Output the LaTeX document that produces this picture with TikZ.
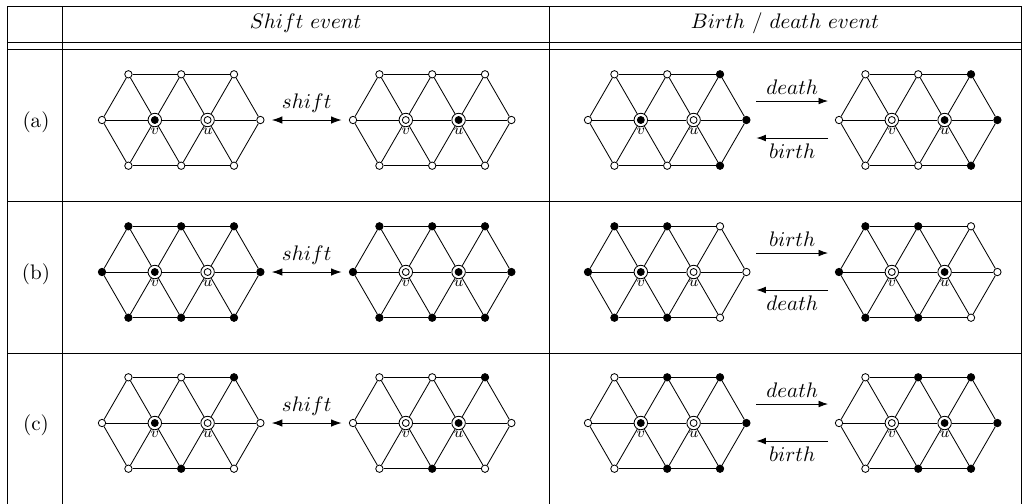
\documentclass[tikz,border=0pt]{standalone}
\usetikzlibrary{arrows.meta}

\tikzset{
	site/.style={shape=circle, draw, fill=#1, inner sep=0pt, minimum size=3.5pt},
	tag/.style={shape=circle, draw, fill=white, inner sep=0pt, minimum size=6.4pt,
		path picture={\filldraw[fill=#1] (path picture bounding box.center) circle (1.65pt);}},
	lbl/.style={font=\scriptsize, inner sep=0.5pt},
	twoway/.style={{Latex[length=5pt,width=3.6pt]}-{Latex[length=5pt,width=3.6pt]}, shorten <=3.5pt, shorten >=3.5pt},
	oneway/.style={-{Latex[length=4.5pt,width=3.2pt]}},
}

\newcommand{\siteu}{52.8}
\newcommand{\siteh}{45.7}
% #1 name, #2 centre, #3 top row, #4 left end, #5 right end, #6 bottom row, #7 fill of v, #8 fill of u
\newcommand{\trilattice}[8]{%
	\begin{scope}[shift={#2}]
		\node[site=#4] (#1m0) at (-1.5*\siteu, 0) {};
		\node[tag=#7, label={[lbl]below:$v$}] (#1m1) at (-0.5*\siteu, 0) {};
		\node[tag=#8, label={[lbl]below:$u$}] (#1m2) at (0.5*\siteu, 0) {};
		\node[site=#5] (#1m3) at (1.5*\siteu, 0) {};
		\foreach \c [count=\i from 0] in {#3} \node[site=\c] (#1t\i) at ({(\i-1)*\siteu}, -\siteh) {};
		\foreach \c [count=\i from 0] in {#6} \node[site=\c] (#1b\i) at ({(\i-1)*\siteu}, \siteh) {};
	\end{scope}
	\draw (#1m0) -- (#1m1) -- (#1m2) -- (#1m3);
	\draw (#1t0) -- (#1t1) -- (#1t2);
	\draw (#1b0) -- (#1b1) -- (#1b2);
	\draw (#1m0) -- (#1t0) -- (#1m1) -- (#1t1) -- (#1m2) -- (#1t2) -- (#1m3);
	\draw (#1m0) -- (#1b0) -- (#1m1) -- (#1b1) -- (#1m2) -- (#1b2) -- (#1m3);
}

\begin{document}
\begin{tikzpicture}[x=0.475pt, y=-0.475pt]
	\useasboundingbox (0,0) rectangle (1025,503);
	% Table:
	\draw (7,505) -- (7,6) -- (1021,6) -- (1021,505);
	\draw (7,42) -- (1021,42) (7,49) -- (1021,49) (7,201) -- (1021,201) (7,353) -- (1021,353);
	\draw (62,6) -- (62,505) (549,6) -- (549,505);
	\node (hshift) at (305.5,23) {$Shift\ event$};
	\node (hbd) at (785,23) {$Birth\ /\ death\ event$};
	\node (rowa) at (36,122) {(a)};
	\node (rowb) at (36,274) {(b)};
	\node (rowc) at (36,425) {(c)};
	% Row (a):
	\trilattice{a1}{(181.2,120)}{white,white,white}{white}{white}{white,white,white}{black}{white}
	\trilattice{a2}{(432.2,120)}{white,white,white}{white}{white}{white,white,white}{white}{black}
	\trilattice{a3}{(667.2,120)}{white,white,black}{white}{black}{white,white,black}{black}{white}
	\trilattice{a4}{(918.2,120)}{white,white,black}{white}{black}{white,white,black}{white}{black}
	\draw[twoway] (a1m3) -- (a2m0) node[midway, above] (sa) {$shift$};
	\draw[oneway] ([shift={(10,-19)}]a3m3.center) -- ([shift={(-11,-19)}]a4m0.center) node[midway, above, inner sep=2.8pt] (da) {$death$};
	\draw[oneway] ([shift={(-11,18)}]a4m0.center) -- ([shift={(10,18)}]a3m3.center) node[midway, below, inner sep=2.8pt] (ba) {$birth$};
	% Row (b):
	\trilattice{b1}{(181.2,272)}{black,black,black}{black}{black}{black,black,black}{black}{white}
	\trilattice{b2}{(432.2,272)}{black,black,black}{black}{black}{black,black,black}{white}{black}
	\trilattice{b3}{(667.2,272)}{black,black,white}{black}{white}{black,black,white}{black}{white}
	\trilattice{b4}{(918.2,272)}{black,black,white}{black}{white}{black,black,white}{white}{black}
	\draw[twoway] (b1m3) -- (b2m0) node[midway, above] (sb) {$shift$};
	\draw[oneway] ([shift={(10,-19)}]b3m3.center) -- ([shift={(-11,-19)}]b4m0.center) node[midway, above, inner sep=2.8pt] (bb) {$birth$};
	\draw[oneway] ([shift={(-11,18)}]b4m0.center) -- ([shift={(10,18)}]b3m3.center) node[midway, below, inner sep=2.8pt] (db) {$death$};
	% Row (c):
	\trilattice{c1}{(181.2,423)}{white,white,black}{white}{white}{white,black,white}{black}{white}
	\trilattice{c2}{(432.2,423)}{white,white,black}{white}{white}{white,black,white}{white}{black}
	\trilattice{c3}{(667.2,423)}{white,black,black}{white}{black}{white,black,black}{black}{white}
	\trilattice{c4}{(918.2,423)}{white,black,black}{white}{black}{white,black,black}{white}{black}
	\draw[twoway] (c1m3) -- (c2m0) node[midway, above] (sc) {$shift$};
	\draw[oneway] ([shift={(10,-19)}]c3m3.center) -- ([shift={(-11,-19)}]c4m0.center) node[midway, above, inner sep=2.8pt] (dc) {$death$};
	\draw[oneway] ([shift={(-11,18)}]c4m0.center) -- ([shift={(10,18)}]c3m3.center) node[midway, below, inner sep=2.8pt] (bc) {$birth$};
\end{tikzpicture}
\end{document}
